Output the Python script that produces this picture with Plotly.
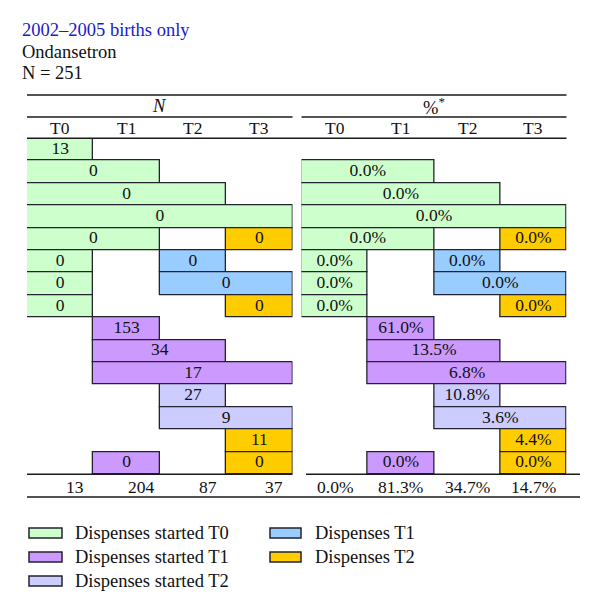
import plotly.graph_objects as go

# ---------------- data ----------------
title_lines = ["2002\u20132005 births only", "Ondansetron", "N = 251"]
period_labels = ["T0", "T1", "T2", "T3"]
panel_titles = ["<i>N</i>", "%<sup>*</sup>"]

group_names = ["Dispenses started T0", "Dispenses started T1", "Dispenses started T2",
               "Dispenses T1", "Dispenses T2"]
group_colors = ["#CCFFCC", "#CC99FF", "#CCCCFF", "#99CCFF", "#FFCC00"]

# one entry per box: row, first period, last period, group, count, percent
seg_row   = [0, 1, 2, 3, 4, 4, 5, 5, 6, 6, 7, 7, 8, 9, 10, 11, 12, 13, 14, 14]
seg_start = [0, 0, 0, 0, 0, 3, 0, 2, 0, 2, 0, 3, 1, 1, 1, 2, 2, 3, 1, 3]
seg_end   = [0, 1, 2, 3, 1, 3, 0, 2, 0, 3, 0, 3, 1, 2, 3, 2, 3, 3, 1, 3]
seg_group = [0, 0, 0, 0, 0, 4, 0, 3, 0, 3, 0, 4, 1, 1, 1, 2, 2, 4, 1, 4]
seg_n     = [13, 0, 0, 0, 0, 0, 0, 0, 0, 0, 0, 0, 153, 34, 17, 27, 9, 11, 0, 0]
seg_pct   = [None, "0.0%", "0.0%", "0.0%", "0.0%", "0.0%", "0.0%", "0.0%", "0.0%", "0.0%",
             "0.0%", "0.0%", "61.0%", "13.5%", "6.8%", "10.8%", "3.6%", "4.4%", "0.0%", "0.0%"]

totals_n   = [13, 204, 87, 37]
totals_pct = ["0.0%", "81.3%", "34.7%", "14.7%"]

# ---------------- styling ----------------
OFF = 8                      # default page body margin in the browser
W, H = 600 - OFF, 615 - OFF
FONT = "Liberation Serif"
EDGE = "#23232f"
TXT = 17.5
n_rows = len(set(seg_row))

def py(p):  # screenshot pixel y -> paper y
    return 1 - (p - OFF) / H

def px(p):  # screenshot pixel x -> paper x
    return (p - OFF) / W

fig = go.Figure()

panels = [("x", lambda i: str(seg_n[i])), ("x2", lambda i: seg_pct[i])]
for axis, labeler in panels:
    for g, (gname, gcol) in enumerate(zip(group_names, group_colors)):
        idx = [i for i in range(len(seg_row)) if seg_group[i] == g and labeler(i) is not None]
        if not idx:
            continue
        fig.add_trace(go.Bar(
            orientation="h",
            y=[seg_row[i] for i in idx],
            base=[seg_start[i] for i in idx],
            x=[seg_end[i] - seg_start[i] + 1 for i in idx],
            width=1,
            marker=dict(color=gcol, line=dict(color=EDGE, width=1.3), opacity=1),
            xaxis=axis, yaxis="y", name=gname, showlegend=False, hoverinfo="skip",
        ))
    idx = [i for i in range(len(seg_row)) if labeler(i) is not None]
    fig.add_trace(go.Scatter(
        x=[(seg_start[i] + seg_end[i] + 1) / 2 for i in idx],
        y=[seg_row[i] for i in idx],
        text=[labeler(i) for i in idx],
        mode="text", textposition="middle center",
        textfont=dict(family=FONT, size=TXT, color="#111111"),
        xaxis=axis, yaxis="y", showlegend=False, hoverinfo="skip",
    ))

annotations = []
# titles
title_y = [30, 52, 73]
title_colors = ["#1a1ad0", "#111111", "#111111"]
for t, yy, c in zip(title_lines, title_y, title_colors):
    annotations.append(dict(text=t, x=px(20), y=py(yy), xref="paper", yref="paper",
                            xanchor="left", yanchor="middle", showarrow=False,
                            font=dict(family=FONT, size=18.5, color=c)))
# panel headers and period labels
for axis, ptitle in zip(["x", "x2"], panel_titles):
    annotations.append(dict(text=ptitle, x=2, y=py(106), xref=axis, yref="paper",
                            xanchor="center", yanchor="middle", showarrow=False,
                            font=dict(family=FONT, size=18.5, color="#111111")))
    for k, lab in enumerate(period_labels):
        annotations.append(dict(text=lab, x=k + 0.5, y=py(128), xref=axis, yref="paper",
                                xanchor="center", yanchor="middle", showarrow=False,
                                font=dict(family=FONT, size=TXT, color="#111111")))
# totals
for k, v in enumerate(totals_n):
    annotations.append(dict(text=str(v), x=k + 0.5, xshift=15, y=py(487), xref="x", yref="paper",
                            xanchor="center", yanchor="middle", showarrow=False,
                            font=dict(family=FONT, size=TXT, color="#111111")))
for k, v in enumerate(totals_pct):
    annotations.append(dict(text=v, x=k + 0.5, y=py(487), xref="x2", yref="paper",
                            xanchor="center", yanchor="middle", showarrow=False,
                            font=dict(family=FONT, size=TXT, color="#111111")))

shapes = []
def hline(x0, x1, yy, w=1.5):
    shapes.append(dict(type="line", xref="paper", yref="paper", x0=px(x0), x1=px(x1),
                       y0=py(yy), y1=py(yy), line=dict(color="#1a1a1a", width=w)))
hline(27, 566.5, 95)
hline(27, 292.5, 117)
hline(301.5, 566.5, 117)
hline(27, 566.5, 138.3)
hline(27, 292.5, 474.3)
hline(306, 580, 474.3)
hline(27, 580, 497)

# legend (manual, to match swatch shape)
leg_x = [(29, 62, 73), (29, 62, 73), (29, 62, 73), (270, 301, 313), (270, 301, 313)]
leg_y = [533, 557, 581, 533, 557]
for g, (gname, gcol) in enumerate(zip(group_names, group_colors)):
    x0, x1, tx = leg_x[g]
    yy = leg_y[g]
    shapes.append(dict(type="rect", xref="paper", yref="paper", x0=px(x0), x1=px(x1),
                       y0=py(yy + 5), y1=py(yy - 5), fillcolor=gcol,
                       line=dict(color=EDGE, width=1.5)))
    annotations.append(dict(text=gname, x=px(tx), y=py(yy), xref="paper", yref="paper",
                            xanchor="left", yanchor="middle", showarrow=False,
                            font=dict(family=FONT, size=18.5, color="#111111")))

ax_common = dict(range=[0, 4], showgrid=False, zeroline=False, showticklabels=False,
                 ticks="", showline=False, fixedrange=True)
fig.update_layout(
    width=W, height=H,
    margin=dict(l=0, r=0, t=0, b=0),
    paper_bgcolor="white", plot_bgcolor="rgba(0,0,0,0)",
    barmode="overlay", bargap=0,
    showlegend=False,
    xaxis=dict(domain=[px(27), px(292.5)], anchor="y", **ax_common),
    xaxis2=dict(domain=[px(301.5), px(566.5)], anchor="y", **ax_common),
    yaxis=dict(domain=[py(474.3), py(138.3)], range=[n_rows - 0.5, -0.5],
               showgrid=False, zeroline=False, showticklabels=False, ticks="",
               showline=False, fixedrange=True),
    annotations=annotations,
    shapes=shapes,
)

fig.write_html("out.html")
